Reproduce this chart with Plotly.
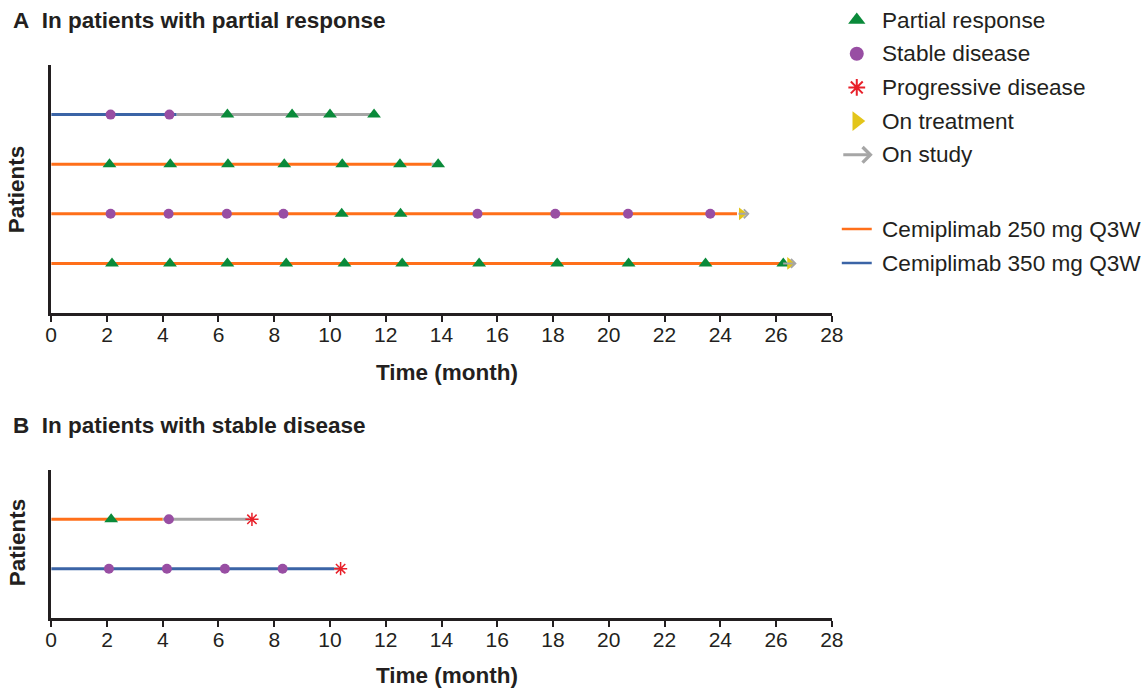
import plotly.graph_objects as go

W, H = 1141, 688
FONT = "Liberation Sans, Arial, Helvetica, sans-serif"
INK = "#231f20"

# ---------------- data ----------------
dose_colors = {250: "#ff6f1a", 350: "#3b64a6"}
C_PR, C_SD, C_PD, C_ON, C_STUDY = "#0a8a3a", "#984ea3", "#e8202a", "#e3c51a", "#a6a6a6"

# Panel A: patients with partial response (row 4 = top)
pa_rows = [4, 3, 2, 1]
pa_dose = [350, 250, 250, 250]
pa_treat_end = [4.5, 13.65, 24.6, 26.2]
pa_study_end = [11.58, 13.88, 25.05, 26.74]
pa_ongoing = [False, False, True, True]
pa_pr = [
    [6.32, 8.64, 10.0, 11.58],
    [2.09, 4.27, 6.34, 8.36, 10.44, 12.51, 13.88],
    [10.42, 12.53],
    [2.18, 4.26, 6.32, 8.43, 10.52, 12.59, 15.35, 18.15, 20.71, 23.47, 26.26],
]
pa_sd = [
    [2.13, 4.24],
    [],
    [2.13, 4.21, 6.30, 8.33, 15.29, 18.08, 20.69, 23.64],
    [],
]
pa_pd = [None, None, None, None]
pa_on_treat = [None, None, 24.77, 26.5]

# Panel B: patients with stable disease (row 2 = top)
pb_rows = [2, 1]
pb_dose = [250, 350]
pb_treat_end = [4.0, 10.15]
pb_study_end = [7.1, 10.3]
pb_ongoing = [False, False]
pb_pr = [[2.15], []]
pb_sd = [[4.22], [2.07, 4.15, 6.23, 8.3]]
pb_pd = [7.2, 10.38]
pb_on_treat = [None, None]

x_ticks = list(range(0, 29, 2))

legend_markers = ["Partial response", "Stable disease", "Progressive disease", "On treatment", "On study"]
legend_lines = ["Cemiplimab 250 mg Q3W", "Cemiplimab 350 mg Q3W"]

# ---------------- helpers ----------------
def gx(x):
    # layout x position (px) corrected for the horizontal scale of the capture
    return (x - 4.7) / 0.986

def px(x):
    return gx(x) / W

def py(y):
    return 1 - y / H

fig = go.Figure()
annotations = []

def add_panel(xa, ya, rows, dose, treat_end, study_end, ongoing, pr, sd, pd, on_treat):
    for r, d, te, se, og in zip(rows, dose, treat_end, study_end, ongoing):
        fig.add_trace(go.Scatter(x=[0, te], y=[r, r], mode="lines", xaxis=xa, yaxis=ya,
                                 line=dict(color=dose_colors[d], width=3), showlegend=False,
                                 hoverinfo="skip"))
        if se > te and not og:
            fig.add_trace(go.Scatter(x=[te, se], y=[r, r], mode="lines", xaxis=xa, yaxis=ya,
                                     line=dict(color=C_STUDY, width=3), showlegend=False,
                                     hoverinfo="skip"))
        if og:
            annotations.append(dict(x=se, y=r, ax=te, ay=r, xref=xa, yref=ya,
                                    axref=xa, ayref=ya, showarrow=True, arrowhead=4,
                                    arrowsize=0.85, arrowwidth=2, arrowcolor=C_STUDY,
                                    standoff=0, startstandoff=0, text=""))

    def mk(xs, ys, sym, color, size, lw=0):
        fig.add_trace(go.Scatter(x=xs, y=ys, mode="markers", xaxis=xa, yaxis=ya,
                                 marker=dict(symbol=sym, color=color, size=size,
                                             line=dict(color=color, width=lw)),
                                 showlegend=False, hoverinfo="skip", cliponaxis=False))
    xs, ys = [], []
    for r, t in zip(rows, pr):
        xs += t; ys += [r] * len(t)
    mk(xs, ys, "triangle-up", C_PR, 12)
    xs, ys = [], []
    for r, t in zip(rows, sd):
        xs += t; ys += [r] * len(t)
    mk(xs, ys, "circle", C_SD, 10)
    xs = [t for t in pd if t is not None]
    ys = [r for r, t in zip(rows, pd) if t is not None]
    if xs:
        mk(xs, ys, "asterisk-open", C_PD, 11, 1.5)
    xs = [t for t in on_treat if t is not None]
    ys = [r for r, t in zip(rows, on_treat) if t is not None]
    if xs:
        mk(xs, ys, "triangle-right", C_ON, 11)

add_panel("x", "y", pa_rows, pa_dose, pa_treat_end, pa_study_end, pa_ongoing, pa_pr, pa_sd, pa_pd, pa_on_treat)
add_panel("x2", "y2", pb_rows, pb_dose, pb_treat_end, pb_study_end, pb_ongoing, pb_pr, pb_sd, pb_pd, pb_on_treat)

# ---------------- legend (drawn manually in a pixel-space overlay axis) ----------------
LEG_X, LEG_TXT, LEG_Y0, LEG_DY = 857, 880, 20, 33.7
LEG_FS = 22.6
leg_syms = ["triangle-up", "circle", "asterisk-open", "triangle-right"]
leg_cols = [C_PR, C_SD, C_PD, C_ON]
leg_sizes = [15, 14, 14, 17]
for i, (s, c, sz) in enumerate(zip(leg_syms, leg_cols, leg_sizes)):
    fig.add_trace(go.Scatter(x=[gx(LEG_X)], y=[LEG_Y0 + i * LEG_DY], mode="markers", xaxis="x3", yaxis="y3",
                             marker=dict(symbol=s, color=c, size=sz,
                                         line=dict(color=c, width=2 if "open" in s else 0)),
                             showlegend=False, hoverinfo="skip", cliponaxis=False))
y_arrow = LEG_Y0 + 4 * LEG_DY
annotations.append(dict(x=gx(873), y=y_arrow, ax=gx(842), ay=y_arrow, xref="x3", yref="y3",
                        axref="x3", ayref="y3", showarrow=True, arrowhead=4, arrowsize=1.0,
                        arrowwidth=3, arrowcolor=C_STUDY, standoff=0, text=""))
for i, lab in enumerate(legend_markers):
    annotations.append(dict(x=px(LEG_TXT), y=py(LEG_Y0 + i * LEG_DY), xref="paper", yref="paper",
                            text=lab, showarrow=False, xanchor="left", yanchor="middle",
                            font=dict(family=FONT, size=LEG_FS, color=INK)))
LEG_LY0 = 229
for i, (lab, d) in enumerate(zip(legend_lines, [250, 350])):
    yy = LEG_LY0 + i * 34
    fig.add_trace(go.Scatter(x=[gx(842), gx(872)], y=[yy, yy], mode="lines", xaxis="x3", yaxis="y3",
                             line=dict(color=dose_colors[d], width=2.5), showlegend=False, hoverinfo="skip"))
    annotations.append(dict(x=px(LEG_TXT), y=py(yy), xref="paper", yref="paper",
                            text=lab, showarrow=False, xanchor="left", yanchor="middle",
                            font=dict(family=FONT, size=LEG_FS, color=INK)))

# ---------------- titles ----------------
TFS = 22.5
for txt, y in [("A\u00a0\u00a0In patients with partial response", 20),
               ("B\u00a0\u00a0In patients with stable disease", 425)]:
    annotations.append(dict(x=px(10), y=py(y), xref="paper", yref="paper", text="<b>" + txt + "</b>",
                            showarrow=False, xanchor="left", yanchor="middle",
                            font=dict(family=FONT, size=TFS, color=INK)))
for y in [372, 675]:
    annotations.append(dict(x=px(446), y=py(y), xref="paper", yref="paper", text="<b>Time (month)</b>",
                            showarrow=False, xanchor="center", yanchor="middle",
                            font=dict(family=FONT, size=TFS, color=INK)))
for y in [189, 542]:
    annotations.append(dict(x=px(16), y=py(y), xref="paper", yref="paper", text="<b>Patients</b>",
                            showarrow=False, xanchor="center", yanchor="middle", textangle=-90,
                            font=dict(family=FONT, size=TFS, color=INK)))

xdom = [px(50), px(832)]
xcommon = dict(range=[0, 28], tickvals=x_ticks, ticktext=[str(t) for t in x_ticks],
               ticks="outside", ticklen=6, tickwidth=2, tickcolor=INK, ticklabelstandoff=-5,
               showline=True, linewidth=2.5, linecolor=INK, showgrid=False, zeroline=False,
               tickfont=dict(family=FONT, size=21, color=INK), fixedrange=True, domain=xdom)
ycommon = dict(showline=True, linewidth=2.5, linecolor=INK, showgrid=False, zeroline=False,
               showticklabels=False, ticks="", fixedrange=True)

fig.update_layout(
    width=W, height=H, autosize=False,
    margin=dict(l=0, r=0, t=0, b=0),
    paper_bgcolor="white", plot_bgcolor="rgba(0,0,0,0)",
    showlegend=False,
    xaxis=dict(**xcommon, anchor="y"),
    yaxis=dict(**ycommon, range=[0, 5], domain=[py(313), py(65)], anchor="x"),
    xaxis2=dict(**xcommon, anchor="y2"),
    yaxis2=dict(**ycommon, range=[0, 3], domain=[py(618), py(470)], anchor="x2"),
    xaxis3=dict(range=[0, W], domain=[0, 1], visible=False, anchor="y3", fixedrange=True),
    yaxis3=dict(range=[H, 0], domain=[0, 1], visible=False, anchor="x3", fixedrange=True),
    annotations=annotations,
    font=dict(family=FONT, color=INK),
)

fig.write_html(
    "out.html",
    config={"displayModeBar": False},
    post_script="document.body.style.margin='0';document.body.style.overflow='hidden';",
)
